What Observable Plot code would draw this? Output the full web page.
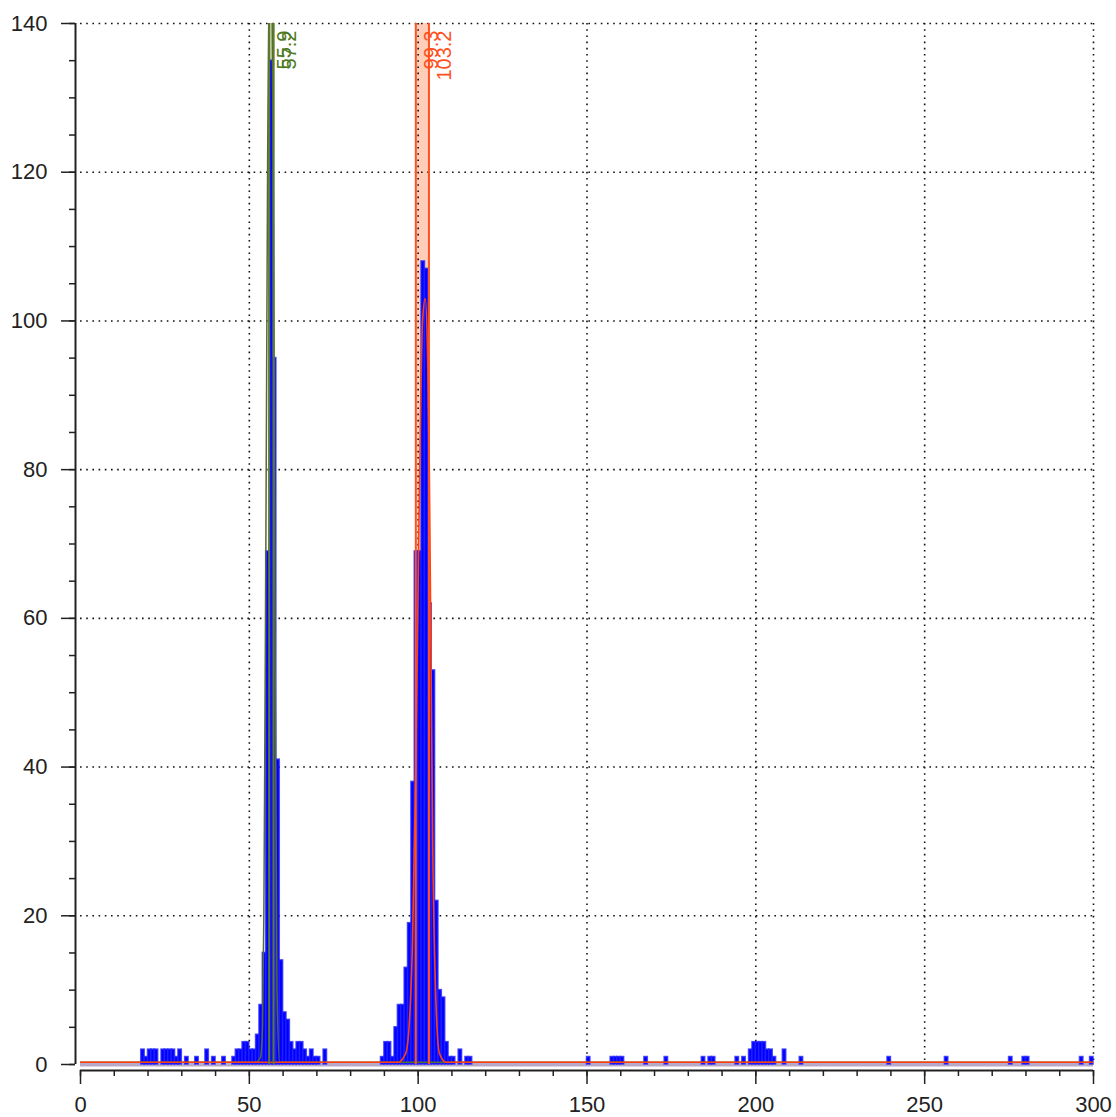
<!DOCTYPE html>
<html><head><meta charset="utf-8">
<script src="https://cdn.jsdelivr.net/npm/d3@7"></script>
<script src="https://cdn.jsdelivr.net/npm/@observablehq/plot@0.6"></script>
<style>body{margin:0;background:#fff;}</style>
</head><body><div id="chart"></div>
<script>
// histogram bins (bin start, count) — bins are 1 unit wide
const binStarts = [18,19,20,21,22,24,25,26,27,28,29,31,34,37,39,42,45,46,47,48,49,50,51,52,53,54,55,56,57,58,59,60,61,62,63,64,65,66,67,68,69,70,72,
  89,90,91,92,93,94,95,96,97,98,99,100,101,102,103,104,105,106,107,108,109,110,112,114,115,
  150,157,158,159,160,167,173,184,186,187,194,196,198,199,200,201,202,203,204,205,208,213,239,256,275,279,280,296,299];
const binCounts = [2,1,2,2,2,2,2,2,2,1,2,1,1,2,1,1,1,2,2,3,3,2,2,4,8,15,69,135,95,41,14,7,6,3,2,3,3,2,1,2,1,1,2,
  1,3,3,1,5,8,8,13,19,38,69,69,108,107,62,53,22,10,9,3,1,1,2,1,1,
  1,1,1,1,1,1,1,1,1,1,1,1,2,3,3,3,3,2,2,1,2,1,1,1,1,1,1,1,1];

const xMajorTicks = [0,50,100,150,200,250,300];
const xMinorTicks = d3.range(0, 301, 10);
const yMajorTicks = [0,20,40,60,80,100,120,140];
const yMinorTicks = d3.range(0, 141, 5);
const xGridTicks = [50,100,150,200,250,300];
const yGridTicks = [20,40,60,80,100,120,140];

// peak markers
const greenMarkers = [55.9, 57.2];
const greenLabels = ["55.9", "57.2"];
const orangeMarkers = [99.3, 103.2];
const orangeLabels = ["99.3", "103.2"];

// fitted curves
const redCurveX = [0, 94, 96.3, 97.3, 98.3, 99.3, 100.3, 101.3, 102.1, 102.8, 103.3, 103.8, 104.3, 105.3, 106.3, 108.3, 300];
const redCurveY = [0.3, 0.3, 1.5, 5, 16, 40, 75, 100, 103, 95, 80, 55, 30, 8, 1.5, 0.3, 0.3];
const greenCurveX = [0, 52, 53.3, 53.9, 54.3, 54.8, 55.4, 56.0, 56.6, 57.1, 57.6, 58.2, 59, 300];
const greenCurveY = [0.3, 0.3, 1, 5, 20, 60, 120, 150, 150, 120, 60, 10, 0.3, 0.3];

const bins = binStarts.map((s, i) => ({x1: s, x2: s + 1, c: binCounts[i]}));
const redCurve = redCurveX.map((x, i) => ({x, y: redCurveY[i]}));
const greenCurve = greenCurveX.map((x, i) => ({x, y: greenCurveY[i]}));

const chart = Plot.plot({
  width: 1116, height: 1117,
  marginLeft: 80, marginRight: 23, marginTop: 23, marginBottom: 53,
  x: {domain: [0, 300]},
  y: {domain: [0, 140]},
  style: {fontFamily: "'Liberation Sans', Arial, sans-serif", fontSize: "22px", color: "#222", background: "#fff"},
  marks: [
    // marker bands
    Plot.rect([greenMarkers], {x1: d => d[0], x2: d => d[1], fill: "#cbd8a8", fillOpacity: 0.8}),
    Plot.rect([orangeMarkers], {x1: d => d[0], x2: d => d[1], fill: "#ffc4ac", fillOpacity: 0.85}),
    // grid
    Plot.gridX(xGridTicks, {stroke: "#111", strokeOpacity: 1, strokeWidth: 1.6, strokeDasharray: "1.6,4.6"}),
    Plot.gridY(yGridTicks, {stroke: "#111", strokeOpacity: 1, strokeWidth: 1.6, strokeDasharray: "1.6,4.6"}),
    // baseline
    Plot.ruleY([0], {stroke: "#b9a9c9", strokeWidth: 4}),
    // histogram
    Plot.rect(bins, {x1: "x1", x2: "x2", y1: 0, y2: "c", fill: "#0000ff", stroke: "#2020ff", strokeWidth: 1.6, strokeOpacity: 0.75}),
    // fitted curves
    Plot.line(greenCurve, {x: "x", y: "y", stroke: "#556b2f", strokeWidth: 1.5, curve: "monotone-x", clip: true}),
    Plot.line(redCurve, {x: "x", y: "y", stroke: "#ff4010", strokeWidth: 1.6, curve: "monotone-x", clip: true}),
    // marker lines
    Plot.ruleX(greenMarkers, {stroke: "#5b7a2e", strokeWidth: 2}),
    Plot.ruleX(orangeMarkers, {stroke: "#ff5220", strokeWidth: 2}),
    // marker labels
    Plot.text(greenMarkers, {x: d => d, y: 140, text: (d, i) => greenLabels[i], rotate: -90, textAnchor: "end", lineAnchor: "top", dx: 8, dy: 7, fill: "#4f7a22", fontSize: 20}),
    Plot.text(orangeMarkers, {x: d => d, y: 140, text: (d, i) => orangeLabels[i], rotate: -90, textAnchor: "end", lineAnchor: "top", dx: 8, dy: 7, fill: "#ff4f1a", fontSize: 20}),
    // axis lines
    Plot.ruleX([0], {dx: -5, stroke: "#222", strokeWidth: 2}),
    Plot.ruleY([0], {dy: 6, stroke: "#222", strokeWidth: 2}),
    // axes
    Plot.axisY(yMinorTicks, {tickSize: 6, dx: -5, text: null, stroke: "#222", strokeWidth: 1.5}),
    Plot.axisY(yMajorTicks, {tickSize: 14, dx: -5, tickPadding: 14, stroke: "#222", strokeWidth: 1.5, fill: "#222"}),
    Plot.axisX(xMinorTicks, {tickSize: 6, dy: 6, text: null, stroke: "#222", strokeWidth: 1.5}),
    Plot.axisX(xMajorTicks, {tickSize: 14, dy: 6, tickPadding: 12, stroke: "#222", strokeWidth: 1.5, fill: "#222"})
  ]
});
document.getElementById("chart").appendChild(chart);
</script>
</body></html>
